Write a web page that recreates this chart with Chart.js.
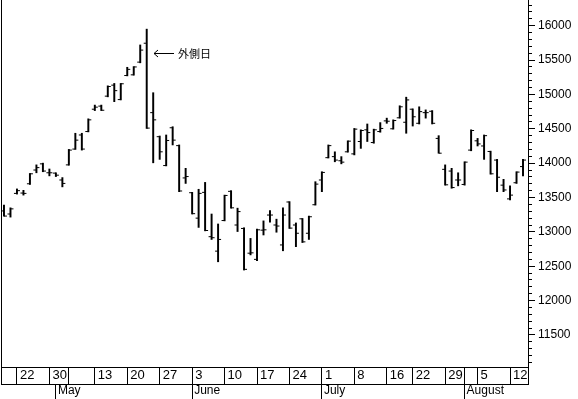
<!DOCTYPE html>
<html>
<head>
<meta charset="utf-8">
<script src="https://cdn.jsdelivr.net/npm/chart.js@4.4.1/dist/chart.umd.min.js"></script>
<style>
html,body{margin:0;padding:0;background:#fff;}
canvas{display:block;}
</style>
</head>
<body>
<canvas id="c" width="578" height="399"></canvas>
<script>
// Daily price bars (trading day index 0..80): open, high, low, close
const openP  = [13305,13260,13560,13565,13700,13900,13990,13860,13855,13755,
                13975,14205,14410,14460,14785,14830,14975,15135,14925,15275,
                15285,15470,15745,14735,14385,13965,14515,14255,13785,13570,
                13200,13575,12930,12720,13165,13590,13100,13050,12690,12600,
                13025,13245,13100,12810,13435,13100,13190,12980,13395,13755,
                14080,14095,14035,14165,14135,14315,14485,14300,14460,14615,
                14500,14660,14595,14785,14580,14735,14755,14360,13910,13885,
                13755,13690,14190,14325,14250,14170,14045,13680,13480,13715,
                13950];
const highP  = [13390,13350,13625,13605,13850,13975,14000,13915,13860,13790,
                14200,14435,14435,14645,14845,14845,15125,15160,15160,15395,
                15405,15720,15950,15025,14395,14410,14530,14265,13925,13575,
                13620,13720,13260,13115,13535,13600,13345,13060,12905,13040,
                13160,13310,13185,13350,13440,13130,13195,13230,13730,13875,
                14265,14165,14095,14325,14505,14485,14570,14495,14590,14655,
                14630,14835,14960,14790,14820,14775,14765,14400,13975,13925,
                13860,14020,14485,14360,14410,14175,14055,13765,13670,13875,
                14055];
const lowP   = [13230,13215,13550,13535,13690,13860,13875,13815,13805,13655,
                13970,14200,14190,14455,14765,14765,14965,14895,14920,15270,
                15280,15460,14505,14005,14055,13960,14265,13585,13705,13260,
                13065,13015,12890,12565,13160,13345,13005,12445,12665,12580,
                12955,13140,12995,12725,13050,12785,12845,12890,13390,13585,
                14075,14020,13990,14160,14120,14215,14315,14290,14450,14580,
                14495,14655,14435,14540,14570,14655,14570,14145,13680,13635,
                13670,13680,14180,14250,14055,13840,13585,13585,13465,13705,
                13815];
const closeP = [13230,13335,13600,13560,13845,13935,13885,13860,13825,13705,
                14190,14335,14205,14630,14815,14770,15115,15055,15155,15365,
                15400,15645,14510,14630,14165,14330,14335,13595,13805,13265,
                13560,13020,12915,12890,13530,13350,13295,12455,12695,13030,
                13030,13245,13085,13245,13055,12980,12855,13220,13695,13865,
                14255,14045,14015,14320,14495,14475,14445,14485,14505,14610,
                14620,14820,14920,14675,14750,14735,14580,14145,13685,13645,
                13755,14015,14475,14280,14400,13845,13795,13610,13535,13870,
                14045];

// Bottom date row (trading day index of each separator, and its label)
const dateTickIdx    = [2, 7, 10, 14, 19, 24, 29, 34, 39, 44, 49, 54, 59, 63, 68, 71, 73, 78];
const dateTickLabels = ['22','30','','13','20','27','3','10','17','24','1','8','16','22','29','','5','12'];
// Month row
const monthTickIdx    = [8, 29, 49, 71];
const monthTickLabels = ['May','June','July','August'];
// Price axis ticks
const yMinorStep = 100, yMajorStep = 500;
// Annotation
const noteIndex = 22, noteValue = 15607, noteText = '外側日';

const X_MIN = -0.46, X_MAX = 80.77;
const Y_MIN = 11034, Y_MAX = 16374;

const days = openP.map((_, i) => i);

const noPad = (s) => { s.paddingLeft = 0; s.paddingRight = 0; s.paddingTop = 0; s.paddingBottom = 0; };

const notePlugin = {
  id: 'note',
  afterDatasetsDraw(chart) {
    const {ctx, scales: {x, y}} = chart;
    const px = Math.round(x.getPixelForValue(noteIndex)) + 7;
    const py = Math.round(y.getPixelForValue(noteValue)) + 0.5;
    ctx.save();
    ctx.strokeStyle = '#000';
    ctx.lineWidth = 1;
    ctx.beginPath();
    ctx.moveTo(px, py); ctx.lineTo(px + 20, py);
    ctx.moveTo(px + 4, py - 3.5); ctx.lineTo(px, py); ctx.lineTo(px + 4, py + 3.5);
    ctx.stroke();
    ctx.fillStyle = '#000';
    ctx.font = '11px "Noto Sans CJK JP"';
    ctx.textBaseline = 'middle';
    ctx.textAlign = 'left';
    ctx.fillText(noteText, px + 24, py);
    ctx.restore();
  }
};

new Chart(document.getElementById('c'), {
  type: 'line',
  data: {
    datasets: [
      {
        type: 'bar',
        data: days.map(i => ({x: i, y: [lowP[i], highP[i]]})),
        backgroundColor: '#000',
        borderWidth: 0,
        barThickness: 1.3,
        xAxisID: 'x', yAxisID: 'y'
      },
      {
        type: 'line', showLine: false,
        data: days.map(i => ({x: i, y: openP[i]})),
        pointStyle: 'dash', pointRotation: 180, pointRadius: 3,
        pointBorderColor: '#000', pointBorderWidth: 1, pointBackgroundColor: '#000',
        xAxisID: 'x', yAxisID: 'y'
      },
      {
        type: 'line', showLine: false,
        data: days.map(i => ({x: i, y: closeP[i]})),
        pointStyle: 'dash', pointRotation: 0, pointRadius: 3,
        pointBorderColor: '#000', pointBorderWidth: 1, pointBackgroundColor: '#000',
        xAxisID: 'x', yAxisID: 'y'
      }
    ]
  },
  options: {
    responsive: false,
    devicePixelRatio: 1,
    animation: false,
    events: [],
    layout: {padding: 0, autoPadding: false},
    plugins: {legend: {display: false}, tooltip: {enabled: false}},
    scales: {
      x: {
        type: 'linear', position: 'bottom', min: X_MIN, max: X_MAX, offset: false, weight: 1,
        afterBuildTicks: (a) => { a.ticks = [X_MIN, ...dateTickIdx, X_MAX].map(v => ({value: v})); },
        afterFit: (s) => { s.height = 17; noPad(s); },
        grid: {drawOnChartArea: false, drawTicks: true, tickLength: 17, tickColor: '#000', tickWidth: 1, offset: false},
        border: {display: true, color: '#000', width: 1},
        ticks: {
          autoSkip: false, maxRotation: 0, minRotation: 0, align: 'start', labelOffset: 3, padding: -16,
          color: '#000', font: {family: '"Liberation Sans", Arial, sans-serif', size: 13},
          callback: (v) => { const k = dateTickIdx.indexOf(v); return k >= 0 ? dateTickLabels[k] : ''; }
        }
      },
      xm: {
        type: 'linear', position: 'bottom', min: X_MIN, max: X_MAX, offset: false, weight: 2,
        afterBuildTicks: (a) => { a.ticks = monthTickIdx.map(v => ({value: v})); },
        afterFit: (s) => { s.height = 15; noPad(s); },
        grid: {drawOnChartArea: false, drawTicks: true, tickLength: 15, tickColor: '#000', tickWidth: 1, offset: false},
        border: {display: true, color: '#000', width: 1},
        ticks: {
          autoSkip: false, maxRotation: 0, minRotation: 0, align: 'start', labelOffset: 2, padding: -16,
          color: '#000', font: {family: '"Liberation Sans", Arial, sans-serif', size: 12},
          callback: (v) => { const k = monthTickIdx.indexOf(v); return k >= 0 ? monthTickLabels[k] : ''; }
        }
      },
      y: {
        type: 'linear', position: 'right', min: Y_MIN, max: Y_MAX,
        afterBuildTicks: (a) => {
          const t = [];
          for (let v = Math.ceil(Y_MIN / yMinorStep) * yMinorStep; v <= Y_MAX; v += yMinorStep) t.push({value: v});
          a.ticks = t;
        },
        afterFit: (s) => { s.width = 50; noPad(s); },
        grid: {
          drawOnChartArea: false, drawTicks: true, tickLength: 7, tickColor: '#000', tickWidth: 1,
          tickBorderDash: (c) => (c.tick && c.tick.value % yMajorStep === 0) ? [] : [3, 30]
        },
        border: {display: true, color: '#000', width: 1},
        ticks: {
          padding: 3, color: '#000', autoSkip: false,
          font: {family: '"Liberation Sans", Arial, sans-serif', size: 12},
          callback: (v) => (v % yMajorStep === 0 ? String(v) : '')
        }
      },
      yl: {
        type: 'linear', position: 'left', min: Y_MIN, max: Y_MAX,
        afterFit: (s) => { s.width = 1; noPad(s); },
        grid: {display: false, drawTicks: false},
        border: {display: true, color: '#000', width: 1},
        ticks: {display: false}
      }
    }
  },
  plugins: [notePlugin]
});
</script>
</body>
</html>
